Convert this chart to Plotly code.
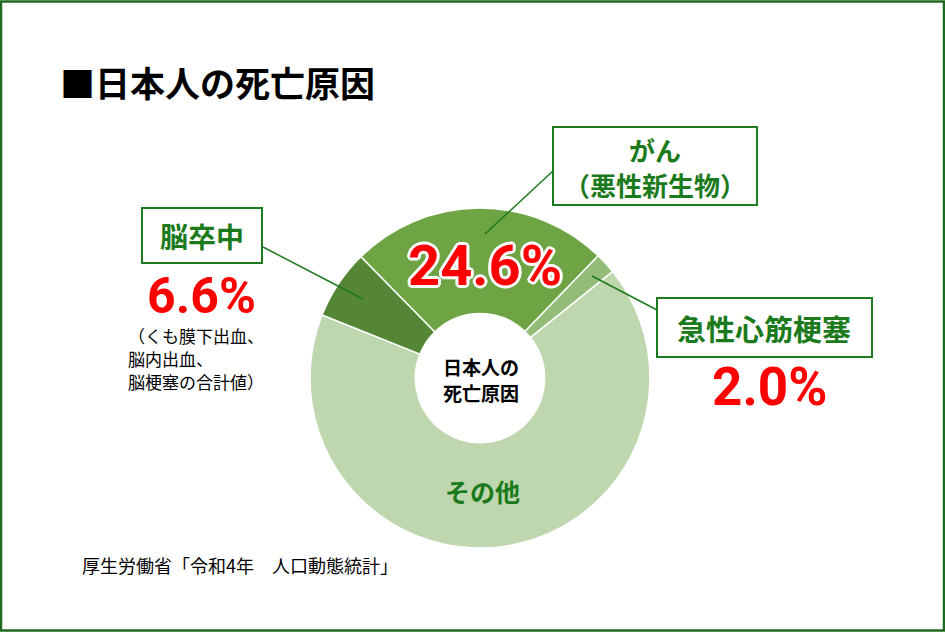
import plotly.graph_objects as go

W, H = 945, 632

# ---- data ----
labels = ["がん", "急性心筋梗塞", "その他", "脳卒中"]
values = [24.6, 2.0, 66.8, 6.6]
colors = ["#6EA443", "#92BC77", "#BED7AE", "#548636"]
pct_texts = {"がん": "24.6%", "急性心筋梗塞": "2.0%", "脳卒中": "6.6%"}
title_text = "■日本人の死亡原因"
center_lines = ["日本人の", "死亡原因"]
cancer_lines = ["がん", "（悪性新生物）"]
note_lines = ["（くも膜下出血、", "脳内出血、", "脳梗塞の合計値）"]
source_text = "厚生労働省「令和4年　人口動態統計」"

GREEN_TXT = "#1B7A1B"
GREEN_LINE = "#1E7A1E"
RED = "#FF0000"
JP = "Noto Sans CJK JP"
NUM = "Roboto, Liberation Sans, sans-serif"


def px(x):
    return x / W


def py(y):
    return 1 - y / H


fig = go.Figure()

cx, cy, R = 480, 378, 170
fig.add_trace(go.Pie(
    labels=labels, values=values, sort=False, direction="clockwise",
    rotation=-44.5, hole=0.38, textinfo="none", hoverinfo="label+percent",
    marker=dict(colors=colors, line=dict(color="white", width=1.5)),
    domain=dict(x=[px(cx - R), px(cx + R)], y=[py(cy + R), py(cy - R)]),
    showlegend=False,
))

shapes = []
# frame
shapes.append(dict(type="rect", xref="paper", yref="paper",
                   x0=px(1), x1=px(W - 1), y0=py(H - 1.5), y1=py(1.5),
                   line=dict(color="#1E6B1E", width=2.5)))
# label boxes
boxes = [(553, 127, 757, 205), (142, 208, 262, 263), (657, 298, 872, 357)]
for x0, y0, x1, y1 in boxes:
    shapes.append(dict(type="rect", xref="paper", yref="paper",
                       x0=px(x0), x1=px(x1), y0=py(y1), y1=py(y0),
                       line=dict(color=GREEN_LINE, width=2), fillcolor="white",
                       layer="above"))
# leader lines
leaders = [(485, 234, 554, 170), (263, 247, 363, 299), (592, 276, 657, 310)]
for x0, y0, x1, y1 in leaders:
    shapes.append(dict(type="line", xref="paper", yref="paper",
                       x0=px(x0), x1=px(x1), y0=py(y0), y1=py(y1),
                       line=dict(color=GREEN_LINE, width=1.5), layer="above"))

ann = []


def add_text(text, x, y, size, color, family=JP, weight="normal", xanchor="center",
             shadow=None, align="center"):
    f = dict(family=family, size=size, color=color, weight=weight)
    if shadow:
        f["shadow"] = shadow
    ann.append(dict(text=text, x=px(x), y=py(y), xref="paper", yref="paper",
                    xanchor=xanchor, yanchor="middle", showarrow=False, font=f,
                    align=align))


add_text(title_text, 58, 81, 35, "black", weight="bold", xanchor="left")
add_text(center_lines[0], 481, 366.5, 19, "black", weight="bold")
add_text(center_lines[1], 481, 392, 19, "black", weight="bold")

add_text(cancer_lines[0], 655, 149.5, 26, GREEN_TXT, weight="bold")
add_text(cancer_lines[1], 655, 184.5, 26, GREEN_TXT, weight="bold")
add_text("脳卒中", 202, 236, 28, GREEN_TXT, weight="bold")
add_text("急性心筋梗塞", 764, 328, 29, GREEN_TXT, weight="bold")
add_text("その他", 483, 491, 25, GREEN_TXT, weight="bold")

outline = ", ".join(f"{dx}px {dy}px 0 white" for dx, dy in
                    [(3, 0), (-3, 0), (0, 3), (0, -3), (2, 2), (-2, -2), (2, -2), (-2, 2)])
add_text(pct_texts["がん"], 485, 266, 56, RED, family=NUM, weight="bold", shadow=outline)
add_text(pct_texts["脳卒中"], 201, 296, 50, RED, family=NUM, weight="bold")
add_text(pct_texts["急性心筋梗塞"], 769, 387, 53, RED, family=NUM, weight="bold")

for i, line in enumerate(note_lines):
    add_text(line, 126, 335 + i * 23, 17, "black", xanchor="left", align="left")

add_text(source_text, 80, 565, 18, "black", xanchor="left")

fig.update_layout(
    width=W, height=H, margin=dict(l=0, r=0, t=0, b=0),
    paper_bgcolor="white", plot_bgcolor="white",
    shapes=shapes, annotations=ann,
)

fig.write_html("out.html")
